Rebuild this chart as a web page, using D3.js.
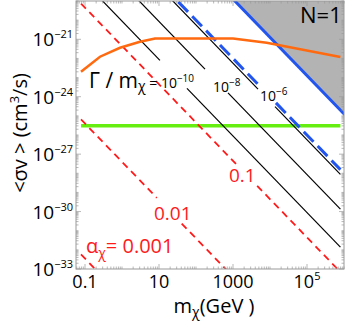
<!DOCTYPE html>
<html><head><meta charset="utf-8">
<script src="https://cdn.jsdelivr.net/npm/d3@7"></script>
<style>body{margin:0;background:#fff} svg{display:block} text{font-family:"Open Sans",sans-serif}</style>
</head><body><svg id="c" width="346" height="323"></svg>
<script>
// ---------------- data ----------------
const massExtent = [0.078, 8e5];                 // GeV, span of every curve
const xTickValues = [0.1, 10, 1000, 1e5];
const xTickLabels = ["0.1", "10", "1000", "10^5"];
const yTickExponents = [-21, -24, -27, -30, -33];

// Γ/mχ lines (black): σv at the two ends of massExtent
const gammaLabels = ["10^-10", "10^-8", "10^-6"];
const gammaSvStart = [1.47e-18, 1.4e-16, 9.2e-15];
const gammaSvEnd   = [1.39e-32, 1.33e-30, 8.8e-29];
const gammaGaps = [[10.6, 57], [175, 733], [4745, 13650]];   // label gaps (GeV)

// αχ lines (red dashed)
const alphaLabels = ["0.1", "0.01", "0.001"];
const alphaSvStart = [7.35e-20, 6.55e-26, 5.8e-33];
const alphaSvEnd   = [6.98e-34, 6.2e-40, 5.5e-47];
const alphaGaps = [[1400, 4500], [8.7, 41], null];

// blue dashed and blue solid (unitarity) lines
const blueDashSv = [1.64e-14, 1.56e-28];
const blueDashGap = [5200, 14500];
const unitaritySv = [2.07e-11, 1.97e-25];

// thermal relic (green)
const relicSv = 3e-26;

// orange curve
const orangeMass = [0.078, 0.254, 0.883, 3.06, 7.8, 1000, 8130, 8e5];
const orangeSv   = [2.0e-23, 1.23e-22, 3.6e-22, 7.4e-22, 1.1e-21, 1.1e-21, 6.6e-22, 1.2e-22];

// ---------------- drawing ----------------
const svg = d3.select("#c");
const L = 76, R = 344, T = 1, B = 269;
const x = d3.scaleLog().domain([0.0571, 1e6]).range([L, R]);
const y = d3.scaleLog().domain([1e-33, 1e-19]).range([B, T]);

svg.append("defs").append("clipPath").attr("id", "clip")
  .append("rect").attr("x", L).attr("y", T).attr("width", R - L).attr("height", B - T);
const plot = svg.append("g").attr("clip-path", "url(#clip)");

const line = d3.line().x(d => x(d[0])).y(d => y(d[1]));
// two-point power-law segment, split around an optional gap
function segs(sv0, sv1, gap) {
  const m0 = massExtent[0], m1 = massExtent[1];
  const k = Math.log(sv1 / sv0) / Math.log(m1 / m0);
  const at = m => sv0 * Math.pow(m / m0, k);
  if (!gap) return [[[m0, sv0], [m1, sv1]]];
  return [[[m0, sv0], [gap[0], at(gap[0])]], [[gap[1], at(gap[1])], [m1, sv1]]];
}

// grey excluded region above unitarity line
const uk = Math.log(unitaritySv[1] / unitaritySv[0]) / Math.log(massExtent[1] / massExtent[0]);
const grey = d3.area().x(d => x(d[0])).y0(d => y(d[1])).y1(T);
plot.append("path")
  .datum([[massExtent[0], unitaritySv[0]], [1.2e6, unitaritySv[0] * Math.pow(1.2e6 / massExtent[0], uk)]])
  .attr("d", grey).attr("fill", "#b3b3b3");

// green relic
plot.append("path").datum([[massExtent[0], relicSv], [massExtent[1], relicSv]])
  .attr("d", line).attr("stroke", "#66ee11").attr("stroke-width", 3.5).attr("fill", "none");

// red dashed
alphaSvStart.forEach((s, i) => {
  segs(s, alphaSvEnd[i], alphaGaps[i]).forEach(seg =>
    plot.append("path").datum(seg).attr("d", line).attr("stroke", "#ff1a1a")
      .attr("stroke-width", 1.8).attr("stroke-dasharray", "7,5").attr("fill", "none"));
});

// black lines
gammaSvStart.forEach((s, i) => {
  segs(s, gammaSvEnd[i], gammaGaps[i]).forEach(seg =>
    plot.append("path").datum(seg).attr("d", line).attr("stroke", "#000")
      .attr("stroke-width", 1.2).attr("fill", "none"));
});

// blue dashed
segs(blueDashSv[0], blueDashSv[1], blueDashGap).forEach(seg =>
  plot.append("path").datum(seg).attr("d", line).attr("stroke", "#2255ee")
    .attr("stroke-width", 3).attr("stroke-dasharray", "14,6").attr("fill", "none"));

// blue solid
plot.append("path").datum([[massExtent[0], unitaritySv[0]], [1.6e6, unitaritySv[0] * Math.pow(1.6e6 / massExtent[0], uk)]])
  .attr("d", line).attr("stroke", "#2255ee").attr("stroke-width", 3).attr("fill", "none");

// orange
plot.append("path").datum(orangeMass.map((m, i) => [m, orangeSv[i]]))
  .attr("d", line).attr("stroke", "#ff6a10").attr("stroke-width", 2.5).attr("fill", "none");

// ---------------- frame & ticks ----------------
const tickCol = "#999";
const fr = svg.append("g");
fr.append("rect").attr("x", L).attr("y", T).attr("width", R - L).attr("height", B - T)
  .attr("fill", "none").attr("stroke", "#999").attr("stroke-width", 1);

const xMinor = [];
for (let e = -2; e <= 6; e++) for (let k = 1; k <= 9; k++) {
  const v = k * Math.pow(10, e);
  if (v >= 0.0571 && v <= 1e6) xMinor.push(v);
}
const yMinor = [];
for (let e = -33; e <= -19; e++) for (let k = 1; k <= 9; k++) {
  const v = k * Math.pow(10, e);
  if (v >= 1e-33 && v <= 1e-19) yMinor.push(v);
}
xMinor.forEach(v => {
  const major = xTickValues.some(t => Math.abs(Math.log10(t / v)) < 1e-6);
  const len = major ? 5 : 2.5;
  fr.append("line").attr("x1", x(v)).attr("x2", x(v)).attr("y1", B).attr("y2", B - len).attr("stroke", tickCol).attr("stroke-width", 0.7);
  fr.append("line").attr("x1", x(v)).attr("x2", x(v)).attr("y1", T).attr("y2", T + len).attr("stroke", tickCol).attr("stroke-width", 0.7);
});
yMinor.forEach(v => {
  const major = yTickExponents.some(e => Math.abs(Math.log10(v) - e) < 1e-6);
  const len = major ? 5 : 2.5;
  fr.append("line").attr("x1", L).attr("x2", L + len).attr("y1", y(v)).attr("y2", y(v)).attr("stroke", tickCol).attr("stroke-width", 0.7);
  fr.append("line").attr("x1", R).attr("x2", R - len).attr("y1", y(v)).attr("y2", y(v)).attr("stroke", tickCol).attr("stroke-width", 0.7);
});

// tick labels
function powText(sel, base, exp, bigSize, supSize) {
  sel.append("tspan").attr("font-size", bigSize).text(base);
  if (exp !== null) sel.append("tspan").attr("font-size", supSize).attr("dy", -bigSize * 0.42).text(exp);
}
xTickValues.forEach((v, i) => {
  const t = svg.append("text").attr("x", x(v)).attr("y", 288).attr("text-anchor", "middle");
  const lab = xTickLabels[i];
  if (lab.includes("^")) { const [b, e] = lab.split("^"); powText(t, b, e, 18, 11); }
  else powText(t, lab, null, 18, 11);
});
yTickExponents.forEach(e => {
  const t = svg.append("text").attr("x", 73).attr("y", y(Math.pow(10, e)) + 7).attr("text-anchor", "end");
  powText(t, "10", "\u2212" + Math.abs(e), 19, 11);
});

// axis titles
const xt = svg.append("text").attr("x", 214).attr("y", 313).attr("text-anchor", "middle").attr("font-size", 20);
xt.append("tspan").text("m");
xt.append("tspan").attr("font-size", 14).attr("dy", 4).text("\u03c7");
xt.append("tspan").attr("dy", -4).text("(GeV )");

const yt = svg.append("text").attr("transform", "translate(27,133) rotate(-90)").attr("text-anchor", "middle").attr("font-size", 20);
yt.append("tspan").text("<\u03c3v > (cm");
yt.append("tspan").attr("font-size", 13).attr("dy", -8).text("3");
yt.append("tspan").attr("dy", 8).text("/s)");

// in-plot labels
const g1 = svg.append("text").attr("x", 89).attr("y", 88);
g1.append("tspan").attr("font-size", 21).text("\u0393 / m");
g1.append("tspan").attr("font-size", 14).attr("dy", 3).text("\u03c7");
g1.append("tspan").attr("font-size", 14).attr("dy", -3).text(" = 10");
g1.append("tspan").attr("font-size", 10).attr("dy", -6).text("\u221210");
[[213, 92, 1], [260, 101, 2]].forEach(([px, py, i]) => {
  const t = svg.append("text").attr("x", px).attr("y", py);
  const [b, e] = gammaLabels[i].split("^");
  t.append("tspan").attr("font-size", 14).text(b);
  t.append("tspan").attr("font-size", 10).attr("dy", -6).text(e.replace("-", "\u2212"));
});
svg.append("text").attr("x", 300).attr("y", 23).attr("font-size", 22).text("N=1");

svg.append("text").attr("x", 229).attr("y", 182).attr("font-size", 19).attr("fill", "#ff1a1a").text(alphaLabels[0]);
svg.append("text").attr("x", 154).attr("y", 220).attr("font-size", 19).attr("fill", "#ff1a1a").text(alphaLabels[1]);
const a3 = svg.append("text").attr("x", 86).attr("y", 253).attr("font-size", 20).attr("fill", "#ff1a1a");
a3.append("tspan").text("\u03b1");
a3.append("tspan").attr("font-size", 14).attr("dy", 5).text("\u03c7");
a3.append("tspan").attr("dy", -5).text("= " + alphaLabels[2]);
</script></body></html>
